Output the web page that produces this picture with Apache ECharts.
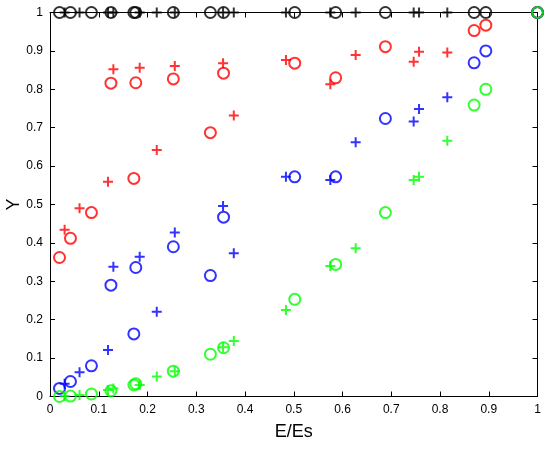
<!DOCTYPE html>
<html>
<head>
<meta charset="utf-8">
<script src="https://cdn.jsdelivr.net/npm/echarts@6/dist/echarts.min.js"></script>
<style>
  html, body { margin: 0; padding: 0; background: #fff; }
  #chart { width: 546px; height: 449px; }
</style>
</head>
<body>
<div id="chart"></div>
<script>
// x positions (E/Es) of the circle and plus markers
const circleX = [0.0195, 0.042, 0.085, 0.125, 0.172, 0.176, 0.253, 0.329, 0.356, 0.502, 0.586, 0.688, 0.870, 0.894, 1.0]
const plusX = [0.030, 0.0606, 0.119, 0.130, 0.184, 0.219, 0.256, 0.355, 0.377, 0.484, 0.575, 0.627, 0.746, 0.757, 0.815]

// Y values, one entry per x above
const blackCircleY = [1, 1, 1, 1, 1, 1, 1, 1, 1, 1, 1, 1, 1, 1, 1]
const blackPlusY = [1, 1, 1, 1, 1, 1, 1, 1, 1, 1, 1, 1, 1, 1, 1]
const redCircleY = [0.362, 0.412, 0.479, 0.816, 0.568, 0.817, 0.827, 0.687, 0.842, 0.868, 0.830, 0.911, 0.953, 0.967, 1.0]
const redPlusY = [0.434, 0.490, 0.559, 0.852, 0.856, 0.642, 0.861, 0.868, 0.732, 0.876, 0.813, 0.889, 0.872, 0.898, 0.896]
const blueCircleY = [0.021, 0.039, 0.080, 0.290, 0.163, 0.336, 0.390, 0.315, 0.467, 0.572, 0.572, 0.724, 0.869, 0.900, 1.0]
const bluePlusY = [0.033, 0.063, 0.121, 0.338, 0.364, 0.221, 0.427, 0.496, 0.373, 0.572, 0.564, 0.662, 0.716, 0.749, 0.779]
const greenCircleY = [0.0, 0.001, 0.0065, 0.015, 0.030, 0.033, 0.066, 0.110, 0.127, 0.253, 0.344, 0.479, 0.759, 0.800, 1.0]
const greenPlusY = [0.001, 0.004, 0.017, 0.021, 0.030, 0.052, 0.066, 0.128, 0.1445, 0.225, 0.340, 0.386, 0.564, 0.572, 0.666]

const tickLabels = ['0', '0.1', '0.2', '0.3', '0.4', '0.5', '0.6', '0.7', '0.8', '0.9', '1']

const PLUS = 'path://M4,0H6V4H10V6H6V10H4V6H0V4H4Z'
const FONT = 'Liberation Sans, Arial, sans-serif'

function pairs(xs, ys) {
  return xs.map((x, i) => [x, ys[i]])
}

function circles(color, ys) {
  return {
    type: 'scatter',
    symbol: 'circle',
    symbolSize: 11,
    clip: false,
    itemStyle: { color: 'transparent', borderColor: color, borderWidth: 2 },
    data: pairs(circleX, ys)
  }
}

function pluses(color, ys) {
  return {
    type: 'scatter',
    symbol: PLUS,
    symbolSize: 10,
    clip: false,
    itemStyle: { color: color },
    data: pairs(plusX, ys)
  }
}

function tickLabel(margin) {
  return {
    color: '#000', fontSize: 12, fontFamily: FONT, margin: margin,
    formatter: v => tickLabels[Math.round(v * 10)]
  }
}

function valueAxis(extra) {
  return Object.assign({
    type: 'value',
    min: 0, max: 1, interval: 0.1,
    axisLine: { show: true, onZero: false, lineStyle: { color: '#000', width: 1 } },
    axisTick: { show: true, inside: true, length: 5, lineStyle: { color: '#000' } },
    splitLine: { show: false },
    axisLabel: { show: false }
  }, extra)
}

const chart = echarts.init(document.getElementById('chart'), null, { renderer: 'canvas' })
chart.setOption({
  animation: false,
  backgroundColor: '#fff',
  grid: { left: 50, right: 8.5, top: 12.5, bottom: 52.5, containLabel: false, outerBoundsMode: 'none' },
  xAxis: [
    valueAxis({
      position: 'bottom',
      name: 'E/Es', nameLocation: 'middle', nameGap: 27,
      nameTextStyle: { color: '#000', fontSize: 18, fontFamily: FONT },
      axisLabel: tickLabel(7)
    }),
    valueAxis({ position: 'top' })
  ],
  yAxis: [
    valueAxis({
      position: 'left',
      name: 'Y', nameLocation: 'middle', nameGap: 36, nameMoveOverlap: false,
      nameTextStyle: { color: '#000', fontSize: 18, fontFamily: FONT, verticalAlign: 'middle' },
      axisLabel: tickLabel(7)
    }),
    valueAxis({ position: 'right' })
  ],
  series: [
    circles('#000000', blackCircleY),
    pluses('#000000', blackPlusY),
    circles('#ff0000', redCircleY),
    pluses('#ff0000', redPlusY),
    circles('#0000ff', blueCircleY),
    pluses('#0000ff', bluePlusY),
    circles('#00ff00', greenCircleY),
    pluses('#00ff00', greenPlusY)
  ]
})
</script>
</body>
</html>
